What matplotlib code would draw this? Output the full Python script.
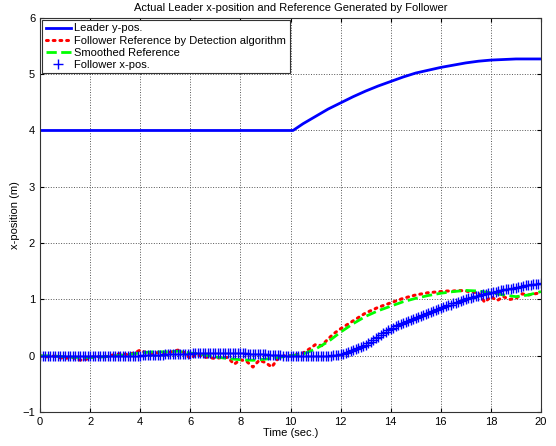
import numpy as np
import matplotlib
matplotlib.use("Agg")
import matplotlib.pyplot as plt

plt.rcParams['font.family'] = ['Liberation Sans', 'DejaVu Sans']

# leader position
t_leader = [0, 10.1, 10.5, 11, 11.5, 12, 12.5, 13, 13.5, 14, 14.5, 15, 15.5,
            16, 16.5, 17, 17.5, 18, 18.5, 19, 19.5, 20]
leader = [4.0, 4.0, 4.12, 4.25, 4.38, 4.49, 4.6, 4.7, 4.79, 4.87, 4.95, 5.02, 5.07,
          5.12, 5.16, 5.2, 5.23, 5.25, 5.26, 5.27, 5.27, 5.27]

# reference from detection algorithm (0.25 s step)
t_ref = np.arange(0, 20.01, 0.25)
ref = [0.0, -0.02, 0.0, -0.03, -0.05, -0.02, -0.07, -0.08, -0.03, -0.01, -0.03, 0.0,
       0.02, 0.04, 0.02, 0.05, 0.1, 0.05, 0.04, 0.06, 0.05, 0.07, 0.1, 0.06,
       -0.05, 0.03, -0.02, -0.03, -0.05, -0.03, -0.03, -0.15, -0.07, -0.1, -0.2, -0.08,
       -0.12, -0.2, -0.05, 0.0, 0.0, 0.02, 0.05, 0.12, 0.2, 0.18, 0.3, 0.4,
       0.48, 0.55, 0.62, 0.69, 0.76, 0.81, 0.86, 0.9, 0.94, 0.98, 1.02, 1.05,
       1.08, 1.1, 1.12, 1.13, 1.14, 1.15, 1.15, 1.16, 1.15, 1.13, 1.12, 0.95,
       1.05, 0.98, 1.05, 1.0, 1.02, 1.1, 1.08, 1.1, 1.12]

# smoothed reference (0.5 s step)
t_smooth = np.arange(0, 20.01, 0.5)
smooth = [0.0, 0.0, -0.02, -0.03, -0.03, -0.02, 0.0, 0.02, 0.05, 0.07, 0.07, 0.08,
          0.05, 0.02, -0.02, -0.05, -0.07, -0.08, -0.06, -0.03, 0.0, 0.03, 0.12, 0.25,
          0.42, 0.57, 0.7, 0.8, 0.88, 0.96, 1.02, 1.07, 1.11, 1.14, 1.16, 1.15,
          1.12, 1.08, 1.05, 1.08, 1.14]

# follower x position (0.1 s step)
t_fol = np.arange(0, 20.001, 0.1)
follower = [
    0.00, 0.00, 0.00, 0.00, 0.00, 0.00, 0.00, 0.00, 0.00, 0.00,
    0.00, 0.00, 0.00, -0.01, -0.01, -0.01, -0.01, -0.01, -0.01, -0.01,
    -0.01, -0.01, -0.01, -0.01, -0.01, -0.01, -0.01, -0.01, -0.01, -0.01,
    -0.01, -0.01, -0.01, -0.01, -0.01, 0.00, 0.00, 0.00, 0.00, 0.00,
    0.00, 0.01, 0.01, 0.01, 0.01, 0.02, 0.02, 0.02, 0.02, 0.02,
    0.03, 0.03, 0.03, 0.03, 0.03, 0.04, 0.04, 0.04, 0.04, 0.04,
    0.04, 0.05, 0.05, 0.05, 0.05, 0.05, 0.05, 0.05, 0.05, 0.05,
    0.05, 0.05, 0.05, 0.05, 0.05, 0.05, 0.05, 0.05, 0.05, 0.05,
    0.05, 0.05, 0.05, 0.04, 0.04, 0.04, 0.04, 0.03, 0.03, 0.03,
    0.03, 0.02, 0.02, 0.02, 0.01, 0.01, 0.01, 0.00, 0.00, 0.00,
    0.00, 0.00, -0.01, -0.01, -0.01, -0.01, -0.01, -0.01, -0.01, -0.01,
    -0.01, -0.01, -0.01, -0.01, 0.00, 0.00, 0.00, 0.01, 0.01, 0.02,
    0.03, 0.04, 0.05, 0.07, 0.08, 0.10, 0.12, 0.14, 0.16, 0.18,
    0.20, 0.23, 0.25, 0.28, 0.31, 0.34, 0.37, 0.40, 0.42, 0.45,
    0.48, 0.50, 0.52, 0.54, 0.56, 0.58, 0.60, 0.62, 0.64, 0.66,
    0.67, 0.69, 0.71, 0.73, 0.74, 0.76, 0.78, 0.79, 0.81, 0.83,
    0.84, 0.86, 0.88, 0.90, 0.91, 0.93, 0.94, 0.96, 0.97, 0.99,
    1.00, 1.02, 1.03, 1.04, 1.06, 1.07, 1.08, 1.09, 1.10, 1.11,
    1.12, 1.13, 1.14, 1.15, 1.16, 1.17, 1.18, 1.19, 1.19, 1.20,
    1.21, 1.22, 1.23, 1.24, 1.25, 1.26, 1.26, 1.27, 1.28, 1.28,
    1.29]

fig = plt.figure(figsize=(5.56, 4.46), dpi=100)
ax = fig.add_axes([0.072, 0.076, 0.901, 0.884])

ax.plot(t_leader, leader, color='#0000ff', lw=2, label='Leader y-pos.')
ax.plot(t_ref, ref, color='#ff0000', lw=2.2, ls=(0, (0.6, 1.6)), dash_capstyle='round',
        label='Follower Reference by Detection algorithm')
ax.plot(t_smooth, smooth, color='#00ff00', lw=2, ls='--', label='Smoothed Reference')
ax.plot(t_fol, follower, color='#0000ff', ls='none', marker='+', ms=6.5, mew=1,
        label='Follower x-pos.')

ax.set_xlim(0, 20)
ax.set_ylim(-1, 6)
ax.set_xticks(range(0, 21, 2))
ax.set_yticks(range(-1, 7))
ax.tick_params(direction='in', labelsize=8, length=3, top=True, right=True)
ax.grid(True, color='#555555', ls=':', lw=0.7)
for s in ax.spines.values():
    s.set_color('#333333')
ax.set_xlabel('Time (sec.)', fontsize=8, labelpad=1)
ax.set_ylabel('x-position (m)', fontsize=8, labelpad=2)
ax.set_title('Actual Leader x-position and Reference Generated by Follower', fontsize=8, pad=5)

leg = ax.legend(loc='upper left', fontsize=8, handlelength=2.3, handletextpad=0.3,
                borderaxespad=0.2, borderpad=0.3, labelspacing=0.2, fancybox=False,
                framealpha=1)
leg.get_frame().set_edgecolor('#333333')
leg.get_frame().set_linewidth(0.8)

fig.savefig('out.png', dpi=100)
